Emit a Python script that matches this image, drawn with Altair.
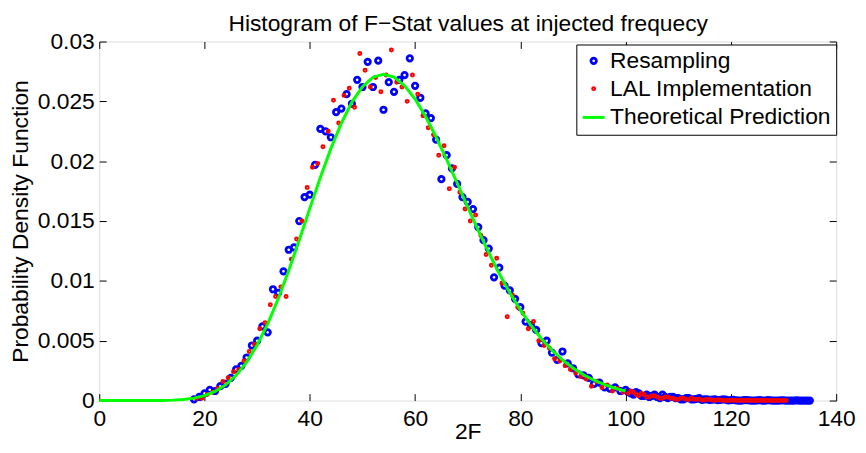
import altair as alt
import pandas as pd

FONT = "Liberation Sans"
TITLE = "Histogram of F\u2212Stat values at injected frequecy"

series_names = ["Resampling", "LAL Implementation", "Theoretical Prediction"]
series_colors = ["#0000ff", "#ff0000", "#00ff00"]

# Theoretical prediction curve
curve_x = [0, 5, 10, 12, 14, 16, 18, 20, 22, 24, 26, 28, 30, 32, 34, 36, 38, 40, 42, 44,
           46, 48, 50, 52, 54, 56, 58, 60, 62, 64, 66, 68, 70, 72, 74, 76, 78, 80, 82, 84,
           86, 88, 90, 92, 94, 96, 98, 100]
curve_y = [0, 0, 0.000004, 0.000013, 0.000037, 0.000093, 0.000205, 0.000412, 0.00076, 0.00131,
           0.00211, 0.00321, 0.00464, 0.00641, 0.00851, 0.01087, 0.01341, 0.01606, 0.01864, 0.02105,
           0.02318, 0.02494, 0.02623, 0.02701, 0.02727, 0.02703, 0.02631, 0.02519, 0.02373, 0.02202,
           0.02014, 0.01818, 0.01617, 0.01422, 0.01236, 0.0106, 0.0090, 0.00757, 0.00629, 0.00517,
           0.00421, 0.0034, 0.00272, 0.00216, 0.0017, 0.00133, 0.00103, 0.00079]

# Resampling histogram points
resamp_x = list(range(18, 136))
resamp_y = [0.0001, 0.0003,
            0.0006, 0.0009, 0.0008, 0.0012, 0.0014, 0.0019, 0.0026, 0.0029, 0.0036, 0.0046,
            0.0050, 0.0062, 0.0057, 0.0093, 0.0090, 0.0108, 0.0126, 0.0128, 0.0150, 0.0170,
            0.0172, 0.0197, 0.0227, 0.0225, 0.0220, 0.0241, 0.0244, 0.0256, 0.0248, 0.0268,
            0.0262, 0.0283, 0.0262, 0.0284, 0.0243, 0.0266, 0.0258, 0.0268, 0.0272, 0.0286,
            0.0263, 0.0253, 0.0240, 0.0236, 0.0218, 0.0185, 0.0205, 0.0194, 0.0181, 0.0170,
            0.0166, 0.0160, 0.0145, 0.0134, 0.0127, 0.0103, 0.0111, 0.0096, 0.0092, 0.0085,
            0.0078, 0.0066, 0.0063, 0.0059, 0.0048, 0.0050, 0.0040, 0.0034, 0.0041, 0.0031,
            0.0027, 0.0022, 0.0021, 0.0019, 0.0014, 0.0015, 0.0011, 0.0010, 0.0011, 0.0008,
            0.0009, 0.0006, 0.0007, 0.0004, 0.0005, 0.0004, 0.0003, 0.0005, 0.0002, 0.0003,
            0.0002, 0.0001, 0.0002, 0.0001, 0.0002, 0.0001, 0.00005, 0.0001, 0.00005, 0.00008,
            0.00003, 0.00002, 0, 0.00004, 0, 0.00002, 0, 0.00003, 0, 0,
            0.00002, 0, 0, 0, 0, 0]
# extra Resampling bins in the tail (x = 100.5 ... 134.5)
resamp_tail_x = [v + 0.5 for v in range(100, 135)]
resamp_tail_y = [0.0007, 0.0005, 0.0006, 0.0004, 0.0003, 0.0005, 0.0002, 0.0003, 0.0003, 0.0002,
                 0.0001, 0.0002, 0.0001, 0.00015, 0.00005, 0.0001, 0.00008, 0.00003, 0.0001, 0.00002,
                 0.00005, 0, 0.00003, 0.00002, 0, 0.00003, 0, 0.00002, 0, 0.00001,
                 0, 0, 0.00001, 0, 0]

# LAL implementation histogram points
lal_x = [v + 0.5 for v in range(18, 131)]
lal_y = [0.0002, 0.0002,
         0.0005, 0.0007, 0.0010, 0.0016, 0.0019, 0.0024, 0.0026, 0.0033, 0.0041, 0.0047,
         0.0060, 0.0065, 0.0080, 0.0087, 0.0095, 0.0087, 0.0118, 0.0135, 0.0150, 0.0178,
         0.0195, 0.0198, 0.0212, 0.0225, 0.0251, 0.0232, 0.0255, 0.0261, 0.0245, 0.0290,
         0.0276, 0.0262, 0.0270, 0.0258, 0.0272, 0.0293, 0.0266, 0.0262, 0.0250, 0.0272,
         0.0256, 0.0238, 0.0228, 0.0222, 0.0205, 0.0213, 0.0177, 0.0195, 0.0174, 0.0160,
         0.0150, 0.0155, 0.0138, 0.0122, 0.0113, 0.0119, 0.0098, 0.0070, 0.0088, 0.0078,
         0.0073, 0.0060, 0.0066, 0.0050, 0.0046, 0.0044, 0.0035, 0.0033, 0.0029, 0.0026,
         0.0023, 0.0020, 0.0018, 0.0012, 0.0016, 0.0011, 0.0013, 0.0008, 0.0010, 0.0007,
         0.0006, 0.0007, 0.0004, 0.0005, 0.0003, 0.0004, 0.0002, 0.0003, 0.0002, 0.0001,
         0.0002, 0.0001, 0.0002, 0.0001, 0.00005, 0.0001, 0.00003, 0.00006, 0.00002, 0,
         0.00003, 0, 0, 0.00002, 0, 0, 0, 0.00001, 0, 0, 0]
# extra LAL bins in the tail (x = 101 ... 130)
lal_tail_x = list(range(101, 131))
lal_tail_y = [0.0008, 0.0005, 0.0006, 0.0003, 0.0004, 0.0003, 0.0002, 0.0003, 0.0002, 0.0001,
              0.0002, 0.00008, 0.0001, 0.00012, 0.00004, 0.00008, 0.00002, 0.00005, 0.00001, 0.00003,
              0, 0.00002, 0, 0.00001, 0, 0.00002, 0, 0, 0.00001, 0]

x_ticks = [0, 20, 40, 60, 80, 100, 120, 140]
y_ticks = [0, 0.005, 0.01, 0.015, 0.02, 0.025, 0.03]

bx = resamp_x + resamp_tail_x
by = resamp_y + resamp_tail_y
rx = lal_x + lal_tail_x
ry = lal_y + lal_tail_y
pts = pd.DataFrame({
    "x": bx + rx,
    "y": by + ry,
    "series": [series_names[0]] * len(bx) + [series_names[1]] * len(rx),
})
line_df = pd.DataFrame({"x": curve_x, "y": curve_y, "series": series_names[2]})

xs = alt.Scale(domain=[0, 140], nice=False, zero=False)
ys = alt.Scale(domain=[0, 0.03], nice=False, zero=False)

color_scale = alt.Scale(domain=series_names, range=series_colors)
shape_scale = alt.Scale(domain=series_names, range=["circle", "circle", "stroke"])
size_scale = alt.Scale(type="ordinal", domain=series_names, range=[30, 4, 484])
sw_scale = alt.Scale(type="ordinal", domain=series_names, range=[2.8, 3.0, 3.0])

leg = alt.Legend(title=None, orient="none", legendX=481, legendY=3,
                 strokeColor="black", fillColor="white", padding=5,
                 labelFontSize=23, labelFont=FONT, labelColor="black", labelLimit=400,
                 rowPadding=4, labelOffset=4, cornerRadius=0)

x_bottom = alt.Axis(values=x_ticks, orient="bottom", offset=-7, tickSize=7, domain=False,
                    grid=False, labelPadding=7, labelFontSize=23, labelFont=FONT,
                    labelColor="black", tickColor="black", labelFlush=False, labelOverlap=False,
                    titleFontSize=23, titleFont=FONT, titleFontWeight="normal", titleColor="black",
                    titleX=371.5, titleY=45, titleBaseline="alphabetic", titleAlign="center")
y_left = alt.Axis(values=y_ticks, format="~g", orient="left", offset=-7, tickSize=7, domain=False,
                  grid=False, labelPadding=5, labelFontSize=23, labelFont=FONT,
                  labelColor="black", tickColor="black", labelFlush=False, labelOverlap=False,
                  titleFontSize=23, titleFont=FONT, titleFontWeight="normal", titleColor="black",
                  titleX=-79, titleY=181, titleBaseline="alphabetic", titleAlign="center",
                  titleAngle=270)
# top axis: inward ticks, and it carries the chart title above the frame
x_top = alt.Axis(values=x_ticks, orient="top", offset=-7, tickSize=7, domain=False, grid=False,
                 labels=False, tickColor="black",
                 titleFontSize=23, titleFont=FONT, titleFontWeight="normal", titleColor="black",
                 titleX=371.5, titleY=-18.5, titleBaseline="alphabetic", titleAlign="center",
                 titleAngle=0)
y_right = alt.Axis(values=y_ticks, orient="right", offset=-7, tickSize=7, domain=False, grid=False,
                   labels=False, tickColor="black", title=None)

points = alt.Chart(pts).mark_point(filled=False, opacity=1).encode(
    x=alt.X("x:Q", scale=xs, axis=x_bottom, title="2F"),
    y=alt.Y("y:Q", scale=ys, axis=y_left, title="Probability Density Function"),
    color=alt.Color("series:N", scale=color_scale, legend=leg),
    shape=alt.Shape("series:N", scale=shape_scale, legend=leg),
    size=alt.Size("series:N", scale=size_scale, legend=leg),
    strokeWidth=alt.StrokeWidth("series:N", scale=sw_scale, legend=leg),
)

line = alt.Chart(line_df).mark_line(strokeWidth=3).encode(
    x=alt.X("x:Q", scale=xs, axis=x_top, title=TITLE),
    y=alt.Y("y:Q", scale=ys, axis=y_right),
    color=alt.Color("series:N", scale=color_scale, legend=leg),
)

chart = alt.layer(points, line).resolve_scale(x="independent", y="independent").properties(
    width=743, height=362,
    autosize=alt.AutoSizeParams(type="none"),
    padding={"left": 92, "top": 32, "right": 22, "bottom": 43},
    background="white",
).configure_view(stroke="black", strokeWidth=1).configure(font=FONT)

chart.save("out.html", embed_options={"renderer": "svg", "actions": False})
